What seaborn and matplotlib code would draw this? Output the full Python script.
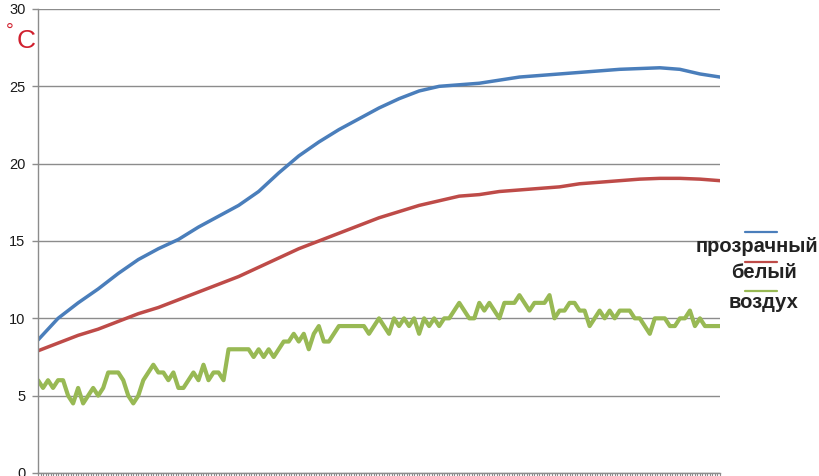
import numpy as np
import pandas as pd
import matplotlib
matplotlib.use("Agg")
import matplotlib.pyplot as plt
from matplotlib.lines import Line2D
from matplotlib.ticker import MultipleLocator
import seaborn as sns

# sample index (time axis), air sensor logged every sample
t_air = list(range(137))
air = [6.0, 5.5, 6.0, 5.5, 6.0, 6.0, 5.0, 4.5, 5.5, 4.5,
       5.0, 5.5, 5.0, 5.5, 6.5, 6.5, 6.5, 6.0, 5.0, 4.5,
       5.0, 6.0, 6.5, 7.0, 6.5, 6.5, 6.0, 6.5, 5.5, 5.5,
       6.0, 6.5, 6.0, 7.0, 6.0, 6.5, 6.5, 6.0, 8.0, 8.0,
       8.0, 8.0, 8.0, 7.5, 8.0, 7.5, 8.0, 7.5, 8.0, 8.5,
       8.5, 9.0, 8.5, 9.0, 8.0, 9.0, 9.5, 8.5, 8.5, 9.0,
       9.5, 9.5, 9.5, 9.5, 9.5, 9.5, 9.0, 9.5, 10.0, 9.5,
       9.0, 10.0, 9.5, 10.0, 9.5, 10.0, 9.0, 10.0, 9.5, 10.0,
       9.5, 10.0, 10.0, 10.5, 11.0, 10.5, 10.0, 10.0, 11.0, 10.5,
       11.0, 10.5, 10.0, 11.0, 11.0, 11.0, 11.5, 11.0, 10.5, 11.0,
       11.0, 11.0, 11.5, 10.0, 10.5, 10.5, 11.0, 11.0, 10.5, 10.5,
       9.5, 10.0, 10.5, 10.0, 10.5, 10.0, 10.5, 10.5, 10.5, 10.0,
       10.0, 9.5, 9.0, 10.0, 10.0, 10.0, 9.5, 9.5, 10.0, 10.0,
       10.5, 9.5, 10.0, 9.5, 9.5, 9.5, 9.5]

# bottle sensors, every 4th sample
t_bottle = list(range(0, 137, 4))
clear = [8.6, 10.0, 11.0, 11.9, 12.9, 13.8, 14.5, 15.1, 15.9, 16.6,
         17.3, 18.2, 19.4, 20.5, 21.4, 22.2, 22.9, 23.6, 24.2, 24.7,
         25.0, 25.1, 25.2, 25.4, 25.6, 25.7, 25.8, 25.9, 26.0, 26.1,
         26.15, 26.2, 26.1, 25.8, 25.6]
white = [7.9, 8.4, 8.9, 9.3, 9.8, 10.3, 10.7, 11.2, 11.7, 12.2,
         12.7, 13.3, 13.9, 14.5, 15.0, 15.5, 16.0, 16.5, 16.9, 17.3,
         17.6, 17.9, 18.0, 18.2, 18.3, 18.4, 18.5, 18.7, 18.8, 18.9,
         19.0, 19.05, 19.05, 19.0, 18.9]

labels = ["прозрачный", "белый", "воздух"]
colors = ["#4a7ebb", "#be4b48", "#98b954"]
widths = [2.5, 2.5, 3.0]

df = pd.concat([
    pd.DataFrame({"t": t_bottle, "temp": clear, "series": labels[0]}),
    pd.DataFrame({"t": t_bottle, "temp": white, "series": labels[1]}),
    pd.DataFrame({"t": t_air, "temp": air, "series": labels[2]}),
])

sns.set_style("white")
plt.rcParams["font.family"] = ["Liberation Sans", "DejaVu Sans"]

fig = plt.figure(figsize=(8.2, 4.76), dpi=100)
ax = fig.add_axes([38 / 820, 3 / 476, 682 / 820, 464 / 476])

for name, col, lw in zip(labels, colors, widths):
    sns.lineplot(data=df[df["series"] == name], x="t", y="temp",
                 color=col, linewidth=lw, ax=ax, legend=False)

ax.set_xlim(0, 136)
ax.set_ylim(0, 30)
ax.set_yticks(range(0, 31, 5))
ax.yaxis.grid(True, color="#8c8c8c", linewidth=1)
ax.xaxis.grid(False)
ax.set_xlabel("")
ax.set_ylabel("")
ax.xaxis.set_major_locator(MultipleLocator(0.5))
ax.set_xticklabels([])
ax.tick_params(axis="x", bottom=True, direction="out", length=4, width=0.8,
               color="#8c8c8c")
ax.tick_params(axis="y", left=True, direction="out", length=4, width=1,
               color="#8c8c8c", pad=5, labelsize=10.5, labelcolor="#1a1a1a")
for side in ["top", "right"]:
    ax.spines[side].set_visible(False)
for side in ["left", "bottom"]:
    ax.spines[side].set_color("#8c8c8c")
    ax.spines[side].set_linewidth(1)

# unit label
fig.text(10 / 820, 1 - 31 / 476, "°", color="#d0202e", fontsize=14,
         ha="center", va="center")
fig.text(17 / 820, 1 - 48 / 476, "C", color="#d0202e", fontsize=19,
         ha="left", va="baseline")

# legend: key line above each label
leg_y_line = [232, 262, 291]
leg_y_text = [247, 272, 302]
leg_x_text = [757, 764, 764]
for name, col, yl, yt, xt in zip(labels, colors, leg_y_line, leg_y_text, leg_x_text):
    fig.add_artist(Line2D([745 / 820, 777 / 820], [1 - yl / 476, 1 - yl / 476],
                          color=col, linewidth=1.6, transform=fig.transFigure))
    fig.text(xt / 820, 1 - yt / 476, name, fontsize=14.5, fontweight="bold",
             ha="center", va="center", color="#222222")

fig.savefig("out.png", dpi=100)
